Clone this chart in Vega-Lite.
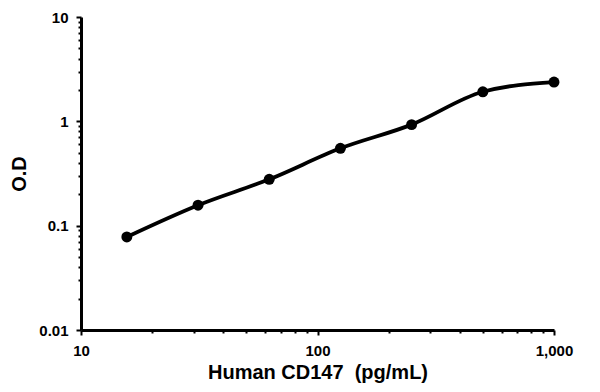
{
  "$schema": "https://vega.github.io/schema/vega-lite/v6.json",
  "width": 473,
  "height": 313,
  "autosize": "none",
  "padding": {"left": 81, "top": 17, "right": 46, "bottom": 62},
  "background": "white",
  "data": {"values": [
    {"conc": 15.625, "od": 0.078},
    {"conc": 31.25, "od": 0.157},
    {"conc": 62.5, "od": 0.278},
    {"conc": 125, "od": 0.551},
    {"conc": 250, "od": 0.93},
    {"conc": 500, "od": 1.92},
    {"conc": 1000, "od": 2.38}
  ]},
  "config": {
    "view": {"stroke": null},
    "axis": {
      "grid": false,
      "domainColor": "black",
      "domainWidth": 3,
      "tickColor": "black",
      "tickWidth": 2,
      "labelFont": "Liberation Sans",
      "labelFontWeight": "bold",
      "labelFontSize": 15,
      "labelColor": "black",
      "titleFont": "Liberation Sans",
      "titleFontWeight": "bold",
      "titleFontSize": 20,
      "titleColor": "black"
    }
  },
  "encoding": {
    "x": {
      "field": "conc", "type": "quantitative",
      "scale": {"type": "log", "domain": [10, 1000]},
      "axis": {
        "title": "Human CD147\u00a0 (pg/mL)",
        "values": [10,20,30,40,50,60,70,80,90,100,200,300,400,500,600,700,800,900,1000],
        "labelExpr": "datum.value == 10 ? '10' : datum.value == 100 ? '100' : datum.value == 1000 ? '1,000' : ''",
        "tickSize": {"condition": {"test": "datum.value == 10 || datum.value == 100 || datum.value == 1000", "value": 5}, "value": 3},
        "labelPadding": 8,
        "titlePadding": 4,
        "labelFlush": false
      }
    },
    "y": {
      "field": "od", "type": "quantitative",
      "scale": {"type": "log", "domain": [0.01, 10]},
      "axis": {
        "title": "O.D",
        "values": [0.01,0.02,0.03,0.04,0.05,0.06,0.07,0.08,0.09,0.1,0.2,0.3,0.4,0.5,0.6,0.7,0.8,0.9,1,2,3,4,5,6,7,8,9,10],
        "labelExpr": "datum.value == 0.01 ? '0.01' : datum.value == 0.1 ? '0.1' : datum.value == 1 ? '1' : datum.value == 10 ? '10' : ''",
        "tickSize": {"condition": {"test": "datum.value == 0.01 || datum.value == 0.1 || datum.value == 1 || datum.value == 10", "value": 5}, "value": 3},
        "labelPadding": 8,
        "titlePadding": 9,
        "labelFlush": false
      }
    }
  },
  "layer": [
    {"mark": {"type": "line", "color": "black", "strokeWidth": 3.8, "interpolate": "monotone"}},
    {"mark": {"type": "point", "filled": true, "color": "black", "opacity": 1, "size": 120}}
  ]
}
